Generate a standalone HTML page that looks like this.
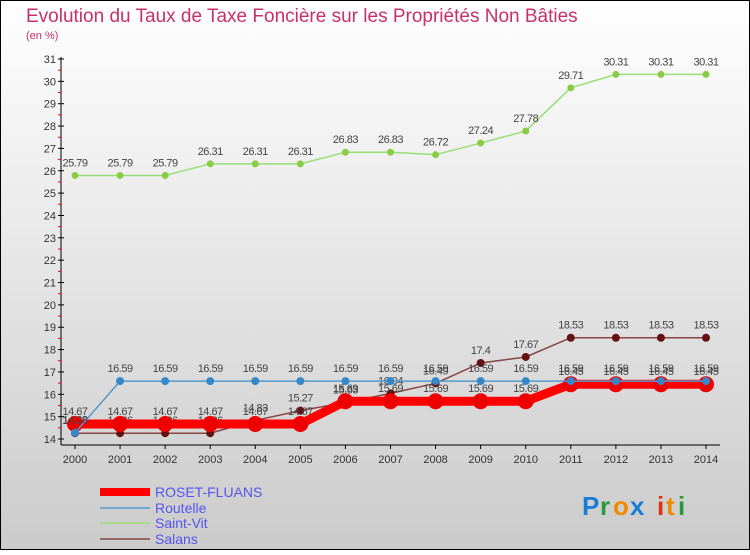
<!DOCTYPE html>
<html><head><meta charset="utf-8"><style>
body{margin:0;width:750px;height:550px;overflow:hidden;font-family:"Liberation Sans",sans-serif}
</style></head><body>
<svg width="750" height="550" xmlns="http://www.w3.org/2000/svg">
<defs><linearGradient id="bg" x1="0" y1="0" x2="0" y2="1"><stop offset="0" stop-color="#ffffff"/><stop offset="1" stop-color="#cbcbcb"/></linearGradient></defs>
<rect x="0.5" y="0.5" width="749" height="549" fill="url(#bg)" stroke="#000"/>
<text x="26" y="22" font-size="19" fill="#c8306a">Evolution du Taux de Taxe Foncière sur les Propriétés Non Bâties</text>
<text x="26" y="39" font-size="11" fill="#c8306a">(en %)</text>
<g id="axes"></g><g id="series"></g><g id="legend"></g>
<g font-size="26" font-weight="bold">
<text x="582" y="515" fill="#1a7fd4">P</text><text x="600" y="515" fill="#2a9a3a">r</text><text x="613" y="515" fill="#f08a00">o</text><text x="630" y="515" fill="#1a7fd4">x</text><text x="657" y="515" fill="#e03010">i</text><text x="666" y="515" fill="#f08a00">t</text><text x="678" y="515" fill="#2a9a3a">i</text>
</g>
</svg>
<script>
const years=[2000,2001,2002,2003,2004,2005,2006,2007,2008,2009,2010,2011,2012,2013,2014];
const yTicks=[14,15,16,17,18,19,20,21,22,23,24,25,26,27,28,29,30,31];
const roset=[14.67,14.67,14.67,14.67,14.67,14.67,15.69,15.69,15.69,15.69,15.69,16.45,16.45,16.45,16.45];
const routelle=[14.28,16.59,16.59,16.59,16.59,16.59,16.59,16.59,16.59,16.59,16.59,16.59,16.59,16.59,16.59];
const saintvit=[25.79,25.79,25.79,26.31,26.31,26.31,26.83,26.83,26.72,27.24,27.78,29.71,30.31,30.31,30.31];
const salans=[14.26,14.26,14.26,14.26,14.83,15.27,15.63,16.04,16.49,17.4,17.67,18.53,18.53,18.53,18.53];
const NS="http://www.w3.org/2000/svg";
const x=i=>75+i*(706-75)/14;
const y=v=>439-(v-14)*(439-59)/17;
function mk(t,a,p){const e=document.createElementNS(NS,t);for(const k in a)e.setAttribute(k,a[k]);p.appendChild(e);return e;}
const ax=document.getElementById('axes');
let l=mk('line',{x1:61,y1:57,x2:61,y2:445,stroke:'#000'},ax);


l=mk('line',{x1:61,y1:445,x2:720,y2:445,stroke:'#000'},ax);


yTicks.forEach(v=>{mk('line',{x1:58,y1:y(v),x2:64,y2:y(v),stroke:'#000'},ax);
 if(v<31)mk('line',{x1:58,y1:y(v+0.5),x2:61,y2:y(v+0.5),stroke:'#e00'},ax);
 const t=mk('text',{x:56,y:y(v)+4,'font-size':11,fill:'#333','text-anchor':'end'},ax);t.textContent=v;
 
 });
years.forEach((yr,i)=>{mk('line',{x1:x(i),y1:445,x2:x(i),y2:449,stroke:'#000'},ax);
 const t=mk('text',{x:x(i),y:463,'font-size':11,fill:'#333','text-anchor':'middle'},ax);t.textContent=yr;
 
 });
const sg=document.getElementById('series');
const series=[
 {n:'saint-vit',d:saintvit,c:'#99dd77',w:1.5,r:3.5,f:'#88cc44'},
 {n:'salans',d:salans,c:'#884444',w:1.5,r:4,f:'#661111'},
 {n:'roset-fluans',d:roset,c:'#ff0000',w:9,r:8,f:'#ee0000'},
 {n:'routelle',d:routelle,c:'#5599cc',w:1.5,r:4,f:'#3388cc'}];
series.forEach(s=>{const g=mk('g',{},sg);
 
 
 mk('polyline',{points:s.d.map((v,i)=>x(i)+','+y(v)).join(' '),fill:'none',stroke:s.c,'stroke-width':s.w},g);
 s.d.forEach((v,i)=>{const c=mk('circle',{cx:x(i),cy:y(v),r:s.r,fill:s.f},g);
  
  
  const t=mk('text',{x:x(i),y:y(v)-9,'font-size':11,fill:'#444','text-anchor':'middle','letter-spacing':'-0.5'},g);t.textContent=v;
  
  });});
const lg=document.getElementById('legend');
const leg=[['ROSET-FLUANS','#ff0000',8,492],['Routelle','#5599cc',1.5,508],['Saint-Vit','#99dd77',1.5,523],['Salans','#884444',1.5,539]];
leg.forEach(e=>{const g=mk('g',{},lg);
 
 
 mk('line',{x1:100,y1:e[3],x2:150,y2:e[3],stroke:e[1],'stroke-width':e[2]},g);
 const t=mk('text',{x:155,y:e[3]+5,'font-size':14,fill:'#5555ee'},g);t.textContent=e[0];});
</script>
</body></html>
